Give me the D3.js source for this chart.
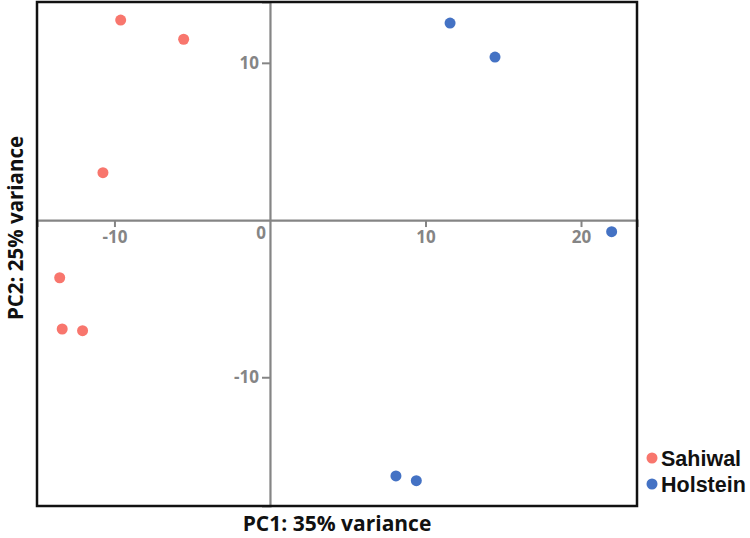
<!DOCTYPE html>
<html>
<head>
<meta charset="utf-8">
<script src="https://cdn.jsdelivr.net/npm/d3@7"></script>
<style>
  html, body { margin: 0; padding: 0; background: #fff; }
  svg { display: block; font-family: "Open Sans", sans-serif; }
</style>
</head>
<body>
<svg id="chart" width="750" height="538"></svg>
<script>
const groups = ["Sahiwal", "Holstein"];
const colors = ["#F8766D", "#4472C4"];
const sahiwalPC1 = [-9.6, -5.55, -10.74, -13.52, -13.36, -12.05];
const sahiwalPC2 = [12.72, 11.5, 3.01, -3.67, -6.93, -7.04];
const holsteinPC1 = [11.58, 14.47, 21.97, 8.1, 9.41];
const holsteinPC2 = [12.53, 10.37, -0.74, -16.28, -16.58];
const xTicks = [-10, 10, 20];
const yTicks = [-10, 10];
const xTitle = "PC1: 35% variance";
const yTitle = "PC2: 25% variance";

const points = [];
sahiwalPC1.forEach((v, i) => points.push({ g: 0, x: v, y: sahiwalPC2[i] }));
holsteinPC1.forEach((v, i) => points.push({ g: 1, x: v, y: holsteinPC2[i] }));

const L = 37, R = 637, T = 2, B = 506;
const x = d3.scaleLinear().domain([-14.98, 23.6]).range([L, R]);
const y = d3.scaleLinear().domain([-18.19, 13.87]).range([B, T]);

const svg = d3.select("#chart");
const axisColor = "#858585";
const fmt = d => String(d);
const tickFont = "'Open Sans', sans-serif";

// x axis through y=0
const gx = svg.append("g").attr("transform", `translate(0,${y(0)})`)
  .call(d3.axisBottom(x).tickValues(xTicks).tickSize(7).tickPadding(4).tickFormat(fmt));
gx.select(".domain").attr("stroke", axisColor).attr("stroke-width", 2.2);
gx.selectAll(".tick line").attr("stroke", axisColor).attr("stroke-width", 2);
gx.selectAll(".tick text").attr("fill", axisColor).attr("font-size", 17).attr("font-weight", 700)
  .attr("font-family", tickFont);

// y axis through x=0
const gy = svg.append("g").attr("transform", `translate(${x(0)},0)`)
  .call(d3.axisLeft(y).tickValues(yTicks).tickSize(8).tickPadding(3).tickFormat(fmt));
gy.select(".domain").attr("stroke", axisColor).attr("stroke-width", 2.2);
gy.selectAll(".tick line").attr("stroke", axisColor).attr("stroke-width", 2);
gy.selectAll(".tick text").attr("fill", axisColor).attr("font-size", 17).attr("font-weight", 700)
  .attr("font-family", tickFont);

// origin label
svg.append("text").attr("x", x(0) - 4).attr("y", y(0) + 19)
  .attr("text-anchor", "end").attr("fill", axisColor).attr("font-family", tickFont)
  .attr("font-size", 17).attr("font-weight", 700).text("0");

// points
svg.append("g").selectAll("circle").data(points).enter().append("circle")
  .attr("cx", d => x(d.x)).attr("cy", d => y(d.y)).attr("r", 5.5)
  .attr("fill", d => colors[d.g]);

// frame
svg.append("rect").attr("x", L).attr("y", T).attr("width", R - L).attr("height", B - T)
  .attr("fill", "none").attr("stroke", "#111").attr("stroke-width", 2.5);

// titles
svg.append("text").attr("x", (L + R) / 2).attr("y", 531).attr("text-anchor", "middle")
  .attr("font-family", "'Open Sans', sans-serif")
  .attr("font-size", 21).attr("font-weight", 700).attr("fill", "#111").text(xTitle);
svg.append("text").attr("transform", `translate(23,${(T + B) / 2 - 26}) rotate(-90)`)
  .attr("text-anchor", "middle").attr("font-family", "'Open Sans', sans-serif")
  .attr("font-size", 20.5).attr("font-weight", 700).attr("fill", "#111").text(yTitle);

// legend
const lg = svg.append("g");
groups.forEach((g, i) => {
  const cy = 458 + i * 26;
  lg.append("circle").attr("cx", 652).attr("cy", cy).attr("r", 5.5).attr("fill", colors[i]);
  lg.append("text").attr("x", 661).attr("y", cy + 8).attr("font-size", 21.5).attr("font-weight", 700)
    .attr("font-family", "'Liberation Sans', Arial, sans-serif")
    .attr("fill", "#111").text(g);
});
</script>
</body>
</html>
